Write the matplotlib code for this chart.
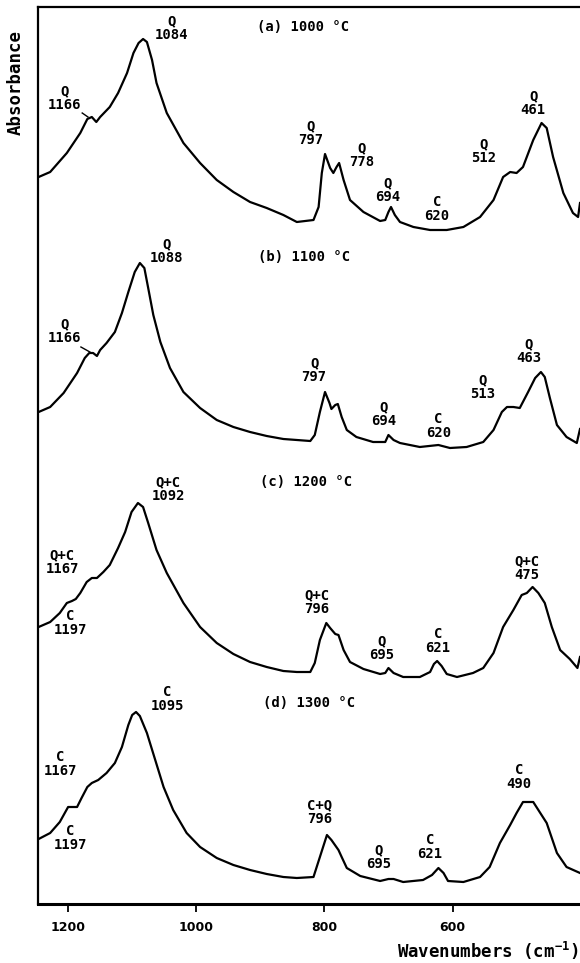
#IR spectra of the samples fired at 1000-1300 C, stacked (Q = quartz, C = cristobalite)
import numpy as np
from matplotlib import pyplot as plt

plt.rcParams['mathtext.fontset'] = 'custom'
plt.rcParams['mathtext.rm'] = 'DejaVu Sans Mono:bold'
plt.rcParams['mathtext.default'] = 'rm'

#spectra: wavenumber (cm-1) and absorbance with stacking offset
wn_a = [1246, 1228, 1202, 1181, 1170, 1163, 1156, 1150, 1135, 1122, 1108, 1098, 1090, 1083,
        1077, 1069, 1062, 1046, 1020, 994, 968, 942, 916, 890, 864, 843, 817, 809, 804, 799,
        791, 786, 781, 777, 770, 760, 739, 713, 705, 700, 696, 690, 682, 661, 635, 609, 583,
        557, 536, 521, 510, 500, 490, 474, 461, 453, 443, 427, 412, 404, 401]
abs_a = [7.27, 7.32, 7.51, 7.71, 7.85, 7.87, 7.82, 7.87, 7.97, 8.11, 8.31, 8.51, 8.61, 8.65,
         8.62, 8.44, 8.21, 7.91, 7.61, 7.41, 7.24, 7.12, 7.02, 6.96, 6.89, 6.82, 6.84, 6.97, 7.31, 7.50,
         7.36, 7.31, 7.37, 7.41, 7.24, 7.04, 6.92, 6.83, 6.84, 6.92, 6.97, 6.89, 6.82, 6.77, 6.74, 6.74, 6.77,
         6.87, 7.04, 7.27, 7.32, 7.31, 7.37, 7.64, 7.81, 7.76, 7.47, 7.11, 6.91, 6.87, 7.01]

wn_b = [1246, 1228, 1207, 1186, 1174, 1167, 1161, 1155, 1150, 1140, 1127, 1116, 1106, 1096,
        1088, 1081, 1075, 1067, 1056, 1041, 1020, 994, 968, 942, 916, 890, 864, 843, 822, 815,
        807, 799, 792, 789, 783, 779, 773, 765, 750, 724, 705, 700, 692, 682, 651, 622, 604,
        578, 552, 536, 523, 515, 505, 495, 482, 471, 462, 456, 448, 437, 422, 406, 401]
abs_b = [4.92, 4.97, 5.11, 5.31, 5.46, 5.51, 5.51, 5.48, 5.54, 5.61, 5.72, 5.91, 6.12, 6.32,
         6.41, 6.36, 6.16, 5.89, 5.62, 5.36, 5.12, 4.96, 4.84, 4.77, 4.72, 4.68, 4.65, 4.64, 4.63, 4.69,
         4.92, 5.12, 5.01, 4.95, 4.99, 5.00, 4.87, 4.74, 4.67, 4.62, 4.62, 4.69, 4.64, 4.61, 4.57, 4.59, 4.56,
         4.57, 4.62, 4.74, 4.92, 4.97, 4.97, 4.96, 5.12, 5.26, 5.32, 5.27, 5.06, 4.79, 4.67, 4.61, 4.75]

wn_c = [1246, 1228, 1213, 1202, 1194, 1188, 1181, 1171, 1163, 1155, 1145, 1135, 1122, 1111,
        1101, 1091, 1083, 1075, 1062, 1046, 1020, 994, 968, 942, 916, 890, 864, 843, 822, 815,
        807, 797, 791, 783, 778, 770, 760, 739, 713, 705, 700, 692, 677, 651, 635, 629, 624,
        617, 609, 593, 568, 552, 536, 521, 505, 492, 484, 475, 466, 456, 445, 432, 417, 405, 401]
abs_c = [2.77, 2.82, 2.91, 3.01, 3.03, 3.05, 3.11, 3.22, 3.26, 3.26, 3.32, 3.39, 3.56, 3.72,
         3.92, 4.01, 3.97, 3.81, 3.54, 3.31, 3.01, 2.77, 2.61, 2.50, 2.42, 2.37, 2.33, 2.32, 2.32, 2.41,
         2.64, 2.81, 2.76, 2.70, 2.69, 2.54, 2.42, 2.35, 2.30, 2.31, 2.36, 2.31, 2.27, 2.27, 2.32, 2.40, 2.43,
         2.38, 2.30, 2.27, 2.31, 2.36, 2.51, 2.77, 2.94, 3.09, 3.11, 3.17, 3.11, 3.01, 2.77, 2.54, 2.45, 2.36, 2.47]

wn_d = [1246, 1228, 1213, 1200, 1192, 1186, 1179, 1170, 1163, 1153, 1140, 1127, 1116, 1106,
        1100, 1094, 1088, 1077, 1064, 1051, 1036, 1015, 994, 968, 942, 916, 890, 864, 843, 817,
        807, 796, 789, 778, 773, 765, 744, 713, 700, 692, 677, 646, 632, 622, 614, 607, 583,
        557, 542, 526, 510, 500, 490, 474, 466, 453, 437, 422, 401]
abs_d = [0.65, 0.71, 0.82, 0.97, 0.97, 0.97, 1.06, 1.17, 1.21, 1.24, 1.31, 1.41, 1.57, 1.79,
         1.89, 1.92, 1.88, 1.71, 1.44, 1.17, 0.94, 0.71, 0.57, 0.46, 0.39, 0.34, 0.30, 0.27, 0.26, 0.27,
         0.47, 0.69, 0.64, 0.54, 0.47, 0.36, 0.28, 0.23, 0.25, 0.25, 0.22, 0.24, 0.29, 0.36, 0.31, 0.23, 0.22,
         0.27, 0.37, 0.61, 0.79, 0.91, 1.02, 1.02, 0.94, 0.81, 0.51, 0.37, 0.31]

spectra = [(wn_a, abs_a), (wn_b, abs_b), (wn_c, abs_c), (wn_d, abs_d)]

#panel titles: text, left x (cm-1), y
titles = ["(a) 1000 °C", "(b) 1100 °C", "(c) 1200 °C", "(d) 1300 °C"]
title_x = [905, 903, 900, 896]
title_y = [8.77, 6.47, 4.22, 2.01]

#band assignments: label, x, y of the label centre
labels_a = [("Q\n1166", 1206, 8.06), ("Q\n1084", 1039, 8.76), ("Q\n797", 822, 7.71),
            ("Q\n778", 742, 7.49), ("Q\n694", 701, 7.14), ("C\n620", 624, 6.95),
            ("Q\n512", 552, 7.53), ("Q\n461", 474, 8.01)]
labels_b = [("Q\n1166", 1205, 5.73), ("Q\n1088", 1047, 6.53), ("Q\n797", 816, 5.34),
            ("Q\n694", 707, 4.90), ("C\n620", 622, 4.78), ("Q\n513", 553, 5.17),
            ("Q\n463", 481, 5.53)]
labels_c = [("Q+C\n1092", 1044, 4.15), ("Q+C\n1167", 1209, 3.42), ("C\n1197", 1197, 2.81),
            ("Q+C\n796", 812, 3.02), ("Q\n695", 710, 2.56), ("C\n621", 623, 2.63),
            ("Q+C\n475", 484, 3.36)]
labels_d = [("C\n1095", 1045, 2.05), ("C\n1167", 1212, 1.40), ("C\n1197", 1197, 0.66),
            ("C+Q\n796", 808, 0.92), ("Q\n695", 716, 0.47), ("C\n621", 635, 0.57),
            ("C\n490", 496, 1.27)]

#short leader lines from the 1166 labels to the shoulder: start x, start y, tip x, tip y
leaders = [(1178, 7.91, 1169, 7.87), (1180, 5.57, 1166, 5.52)]

mono = 'DejaVu Sans Mono'

fig = plt.figure(figsize=(5.8, 9.63), dpi=100)
ax = fig.add_axes([38/580, 1-904/963, 542/580, 897/963])

for wn, ab in spectra:
    ax.plot(wn, ab, color='black', lw=1.6, solid_joinstyle='round')

for t, x, y in zip(titles, title_x, title_y):
    ax.text(x, y, t, family=mono, fontsize=10, fontweight='bold', ha='left', va='center')

for lab in labels_a + labels_b + labels_c + labels_d:
    ax.text(lab[1], lab[2], lab[0], family=mono, fontsize=10, fontweight='bold',
            ha='center', va='center', multialignment='center', linespacing=1.0)

for x0, y0, x1, y1 in leaders:
    ax.plot([x0, x1], [y0, y1], color='black', lw=1.0)

ax.set_xlim(1247, 401)
ax.set_ylim(0, 8.97)
ax.set_xticks([1200, 1000, 800, 600])
ax.set_xticklabels(['1200', '1000', '800', '600'], fontweight='bold', fontsize=9)
ax.set_yticks([])
ax.tick_params(axis='x', direction='out', length=6, width=1.3, pad=6)
ax.spines['right'].set_visible(False)
ax.spines['left'].set_linewidth(1.6)
ax.spines['top'].set_linewidth(1.6)
ax.spines['bottom'].set_linewidth(2.2)

fig.text(16/580, 1-30/963, 'Absorbance', family=mono, fontsize=12.5, fontweight='bold',
         rotation=90, ha='center', va='top')
fig.text(0.997, 1-958/963, r'Wavenumbers (cm$^{-1}$)', family=mono, fontsize=12.5,
         fontweight='bold', ha='right', va='baseline')

fig.savefig('out.png', dpi=100)
